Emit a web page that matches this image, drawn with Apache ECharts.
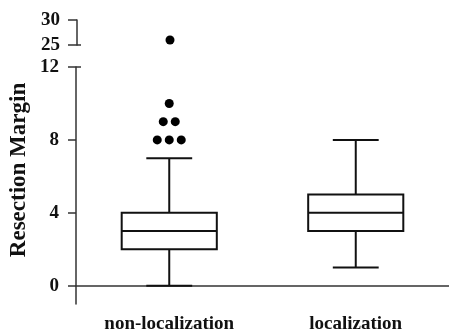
<!DOCTYPE html>
<html>
<head>
<meta charset="utf-8">
<script src="https://cdn.jsdelivr.net/npm/echarts@6/dist/echarts.min.js"></script>
<style>html,body{margin:0;padding:0;background:#fff}#c{width:449px;height:336px}</style>
</head>
<body>
<div id="c"></div>
<script>
// ---- data ----
var categories = ['non-localization', 'localization'];
// [min, Q1, median, Q3, max]
var boxNonLocalization = [0, 2, 3, 4, 7];
var boxLocalization = [1, 3, 4, 5, 8];
var outliersLow = [8, 8, 8, 9, 9, 10];   // non-localization, lower panel
var outliersHigh = [26];                 // non-localization, upper panel
var lowerTicks = [0, 4, 8, 12];
var upperTicks = [25, 30];
var yTitle = 'Resection Margin';

var FONT = 'Liberation Serif';
var AX = '#333';
var G0 = { left: 77, right: -3, top: 20, height: 25 };
var G1 = { left: 76, right: -3, top: 67, bottom: 32 };

function dodge(vals, cat) {
  var counts = {}, seen = {};
  vals.forEach(function (v) { counts[v] = (counts[v] || 0) + 1; });
  return vals.map(function (v) {
    var i = seen[v] || 0; seen[v] = i + 1;
    return { value: [cat, v], symbolOffset: [(i - (counts[v] - 1) / 2) * 12, 0] };
  });
}

function renderBox(params, api) {
  var c = api.value(0);
  var p = [1, 2, 3, 4, 5].map(function (k) { return api.coord([c, api.value(k)]); });
  var band = api.size([1, 0])[0];
  var hw = band * 0.255, cw = band * 0.123;
  var x = p[0][0];
  var st = { stroke: '#111', lineWidth: 2, fill: '#fff' };
  var ln = { stroke: '#111', lineWidth: 2 };
  return {
    type: 'group',
    children: [
      { type: 'line', shape: { x1: x, y1: p[0][1], x2: x, y2: p[1][1] }, style: ln },
      { type: 'line', shape: { x1: x, y1: p[3][1], x2: x, y2: p[4][1] }, style: ln },
      { type: 'line', shape: { x1: x - cw, y1: p[0][1], x2: x + cw, y2: p[0][1] }, style: ln },
      { type: 'line', shape: { x1: x - cw, y1: p[4][1], x2: x + cw, y2: p[4][1] }, style: ln },
      { type: 'rect', shape: { x: x - hw, y: p[3][1], width: 2 * hw, height: p[1][1] - p[3][1] }, style: st },
      { type: 'line', shape: { x1: x - hw, y1: p[2][1], x2: x + hw, y2: p[2][1] }, style: ln }
    ]
  };
}

var labelStyle = { fontFamily: FONT, fontWeight: 'bold', fontSize: 19, color: '#111' };

var chart = echarts.init(document.getElementById('c'), null, { renderer: 'canvas' });
chart.setOption({
  animation: false,
  backgroundColor: '#fff',
  grid: [G0, G1],
  xAxis: [
    { type: 'category', gridIndex: 0, data: categories, show: false },
    {
      type: 'category', gridIndex: 1, data: categories,
      axisLine: { lineStyle: { color: AX, width: 1.5 } },
      axisTick: { alignWithLabel: true, length: 5, lineStyle: { color: AX, width: 1.5 } },
      axisLabel: Object.assign({ margin: 11 }, labelStyle)
    }
  ],
  yAxis: [
    {
      type: 'value', gridIndex: 0, min: 25, max: 30, interval: 5,
      axisLine: { show: true, lineStyle: { color: AX, width: 1.5 } },
      axisTick: { show: true, length: 9, customValues: upperTicks, lineStyle: { color: AX, width: 1.5 } },
      axisLabel: Object.assign({ margin: 17, customValues: upperTicks }, labelStyle),
      splitLine: { show: false }
    },
    {
      type: 'value', gridIndex: 1, min: -1, max: 12,
      axisLine: { show: true, lineStyle: { color: AX, width: 1.5 } },
      axisTick: { show: true, length: 8, customValues: lowerTicks, lineStyle: { color: AX, width: 1.5 } },
      axisLabel: Object.assign({ margin: 17, customValues: lowerTicks }, labelStyle),
      splitLine: { show: false }
    }
  ],
  series: [
    {
      type: 'custom', xAxisIndex: 1, yAxisIndex: 1,
      renderItem: renderBox,
      encode: { x: 0, y: [1, 2, 3, 4, 5] },
      data: [[0].concat(boxNonLocalization), [1].concat(boxLocalization)],
      z: 2
    },
    {
      type: 'scatter', xAxisIndex: 1, yAxisIndex: 1, symbolSize: 9,
      itemStyle: { color: '#000', opacity: 1 }, data: dodge(outliersLow, 0)
    },
    {
      type: 'scatter', xAxisIndex: 0, yAxisIndex: 0, symbolSize: 9,
      itemStyle: { color: '#000', opacity: 1 }, data: dodge(outliersHigh, 0)
    }
  ]
});

// axis-break marks: small tick stubs to the right of the axis at the break values,
// positioned through the axes' own scales
var yBreakUp = chart.convertToPixel({ yAxisIndex: 0 }, upperTicks[0]);
var yBreakLow = chart.convertToPixel({ yAxisIndex: 1 }, lowerTicks[lowerTicks.length - 1]);
var brk = { stroke: AX, lineWidth: 1.5 };
chart.setOption({
  graphic: [
    { type: 'line', shape: { x1: G0.left, y1: yBreakUp, x2: G0.left + 4, y2: yBreakUp }, style: brk },
    { type: 'line', shape: { x1: G1.left, y1: yBreakLow, x2: G1.left + 5, y2: yBreakLow }, style: brk },
    {
      type: 'text', x: 19, y: 170, rotation: Math.PI / 2,
      style: { text: yTitle, font: 'bold 23px "' + FONT + '"', fill: '#111', textAlign: 'center', textVerticalAlign: 'middle' }
    }
  ]
});
</script>
</body>
</html>
